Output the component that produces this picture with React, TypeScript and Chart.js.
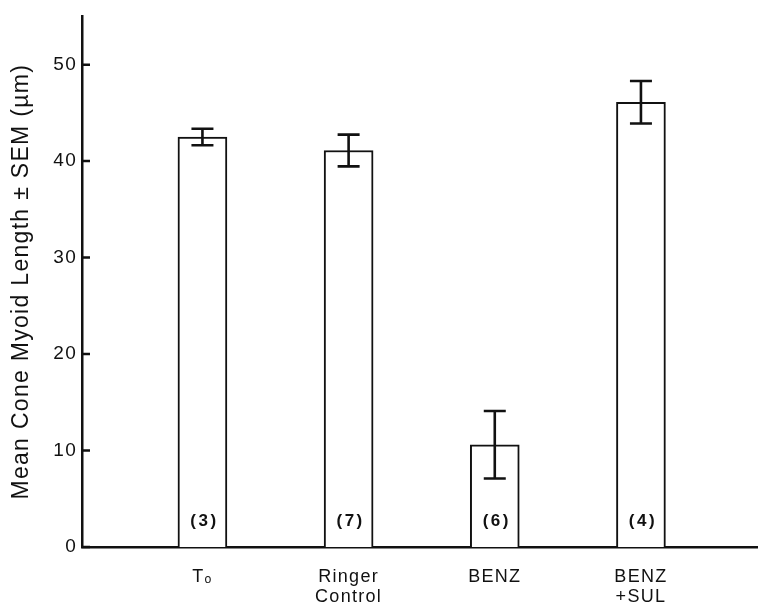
import React, { useEffect, useRef } from "react";
import { Chart, registerables } from "chart.js";

Chart.register(...registerables);

const categories: (string | string[])[] = ["T\u2092", ["Ringer", "Control"], "BENZ", ["BENZ", "+SUL"]];
const meanValues = [42.5, 41.1, 10.6, 46.1];
const semValues = [0.85, 1.65, 3.5, 2.2];
const sampleSizes = ["(3)", "(7)", "(6)", "(4)"];
const yTickValues = [0, 10, 20, 30, 40, 50];
const yTitle = "Mean Cone Myoid Length \u00b1 SEM (\u00b5m)";

const FONT = "'Liberation Sans', Arial, Helvetica, sans-serif";

const overlayPlugin = {
  id: "overlay",
  beforeDraw(chart: any) {
    const ctx = chart.ctx;
    ctx.letterSpacing = "1.3px";
  },
  afterDatasetsDraw(chart: any) {
    const ctx = chart.ctx;
    const y = chart.scales.y;
    const meta = chart.getDatasetMeta(0);
    ctx.save();
    ctx.strokeStyle = "#111";
    ctx.lineWidth = 2.6;
    ctx.lineCap = "butt";
    meta.data.forEach((bar: any, i: number) => {
      const cx = bar.x;
      const hi = y.getPixelForValue(meanValues[i] + semValues[i]);
      const lo = y.getPixelForValue(meanValues[i] - semValues[i]);
      const cap = 11;
      ctx.beginPath();
      ctx.moveTo(cx, hi);
      ctx.lineTo(cx, lo);
      ctx.moveTo(cx - cap, hi);
      ctx.lineTo(cx + cap, hi);
      ctx.moveTo(cx - cap, lo);
      ctx.lineTo(cx + cap, lo);
      ctx.stroke();
    });
    ctx.fillStyle = "#111";
    ctx.letterSpacing = "2.5px";
    ctx.font = `bold 17px ${FONT}`;
    ctx.textAlign = "center";
    ctx.textBaseline = "middle";
    const base = y.getPixelForValue(0);
    meta.data.forEach((bar: any, i: number) => {
      ctx.fillText(sampleSizes[i], bar.x + 2, base - 26);
    });
    ctx.restore();
  },
  afterDraw(chart: any) {
    const ctx = chart.ctx;
    const y = chart.scales.y;
    const left = chart.chartArea.left;
    ctx.save();
    ctx.strokeStyle = "#111";
    ctx.lineWidth = 2.5;
    ctx.beginPath();
    yTickValues.forEach((v) => {
      const py = y.getPixelForValue(v);
      ctx.moveTo(left, py);
      ctx.lineTo(left + 8, py);
    });
    ctx.stroke();
    ctx.restore();
    ctx.letterSpacing = "0px";
  },
};

export default function App() {
  const ref = useRef<HTMLCanvasElement | null>(null);
  useEffect(() => {
    if (!ref.current) return;
    const chart = new Chart(ref.current, {
      type: "bar",
      data: {
        datasets: [
          {
            data: meanValues.map((v, i) => ({ x: i + 1, y: v })),
            backgroundColor: "#ffffff",
            borderColor: "#111111",
            borderWidth: 2,
            barThickness: 49,
          },
        ],
      },
      options: {
        animation: false,
        responsive: false,
        devicePixelRatio: 1,
        layout: { padding: { top: 13, right: 1, left: 0, bottom: 0 } },
        plugins: { legend: { display: false }, tooltip: { enabled: false } },
        scales: {
          x: {
            type: "linear",
            min: 0.176,
            max: 4.794,
            offset: false,
            grid: { display: false, drawTicks: false, offset: false },
            border: { display: true, color: "#111", width: 2.5 },
            afterBuildTicks: (scale: any) => {
              scale.ticks = categories.map((_, i) => ({ value: i + 1 }));
            },
            afterFit: (scale: any) => {
              scale.height = 57;
            },
            ticks: {
              autoSkip: false,
              maxRotation: 0,
              padding: 20,
              color: "#111",
              font: { family: FONT, size: 18, lineHeight: 1.12 },
              callback: (v: any) => categories[Math.round(v) - 1] ?? "",
            },
          },
          y: {
            type: "linear",
            min: 0,
            max: 55,
            grid: { display: false, drawTicks: false },
            border: { display: true, color: "#111", width: 2.5 },
            afterBuildTicks: (scale: any) => {
              scale.ticks = yTickValues.map((v) => ({ value: v }));
            },
            afterFit: (scale: any) => {
              scale.width = 82;
            },
            ticks: {
              padding: 5,
              color: "#111",
              font: { family: FONT, size: 19 },
            },
            title: {
              display: true,
              text: yTitle,
              color: "#111",
              padding: { top: 8, bottom: 0 },
              font: { family: FONT, size: 23 },
            },
          },
        },
      },
      plugins: [overlayPlugin],
    } as any);
    return () => chart.destroy();
  }, []);
  return (
    <div style={{ position: "fixed", left: 0, top: 0, width: 758, height: 604, background: "#fff" }}>
      <canvas ref={ref} width={758} height={604} style={{ display: "block" }} />
    </div>
  );
}
